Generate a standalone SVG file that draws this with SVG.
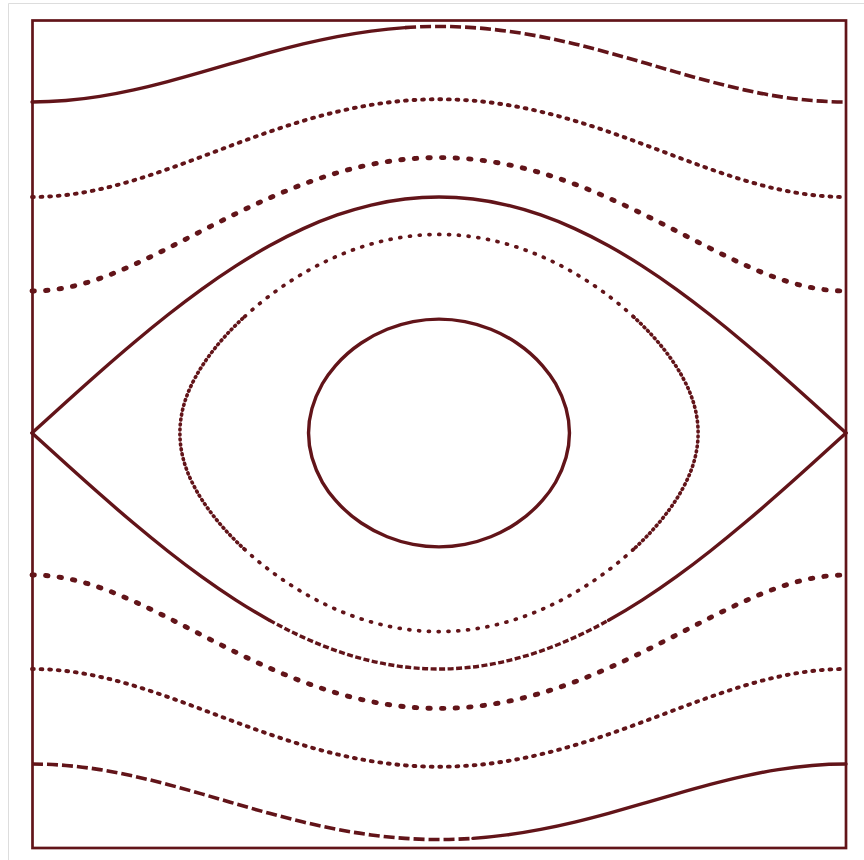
<svg xmlns="http://www.w3.org/2000/svg" width="864" height="860" viewBox="0 0 864 860">
<style>
.c{fill:none;stroke:#621419;stroke-linejoin:round;stroke-linecap:round}
.solid{stroke-width:3.4}
.dash{stroke-width:3.6;stroke-dasharray:11 4;stroke-linecap:butt}
.fine{stroke-width:3.9;stroke-dasharray:1.8 6.8}
.big{stroke-width:4.9;stroke-dasharray:2.4 11.2}
.orb{stroke-width:3.7;stroke-dasharray:1 8.8}
.orbt{stroke-width:3.6;stroke-dasharray:1 4}
.sepd{stroke-width:3.4;stroke-dasharray:6 2.5;stroke-linecap:butt}
</style>
<rect width="864" height="860" fill="#ffffff"/>
<polyline points="8.5,860 8.5,3.5 864,3.5" fill="none" stroke="#dddddd" stroke-width="1"/>
<rect id="frame" x="32.5" y="20.5" width="813.5" height="827.5" fill="none" stroke="#621419" stroke-width="2.7"/>
<g id="curves">
<g id="rotA-top">
<path class="c solid" d="M32,101.97 C43.31,101.97 54.61,101.49 65.92,100.54 S88.52,98.19 99.83,96.38 S122.44,92.37 133.75,89.87 S156.36,84.55 167.67,81.56 S190.27,75.38 201.58,72.13 S224.19,65.56 235.5,62.28 S258.11,55.78 269.42,52.69 S292.02,46.66 303.33,43.95 S325.94,38.78 337.25,36.61 S359.86,32.58 371.17,31.07 S393.77,28.40 405.08,27.62"/>
<path class="c dash" d="M405.08,27.62 C416.39,26.84 427.69,26.45 439,26.45 S461.61,26.84 472.92,27.62 S495.52,29.56 506.83,31.07 S529.44,34.44 540.75,36.61 S563.36,41.25 574.67,43.95 S597.27,49.60 608.58,52.69 S631.19,59.00 642.5,62.28 S665.11,68.88 676.42,72.13 S699.02,78.57 710.33,81.56 S732.94,87.37 744.25,89.87 S766.86,94.58 778.17,96.38 S800.77,99.59 812.08,100.54 S834.69,101.97 846,101.97"/>
</g>
<g id="rotA-bottom">
<path class="c dash" d="M32,764.03 C43.31,764.03 54.61,764.51 65.92,765.46 S88.52,767.81 99.83,769.62 S122.44,773.63 133.75,776.13 S156.36,781.45 167.67,784.44 S190.27,790.62 201.58,793.87 S224.19,800.44 235.5,803.72 S258.11,810.22 269.42,813.31 S292.02,819.34 303.33,822.05 S325.94,827.22 337.25,829.39 S359.86,833.42 371.17,834.93 S393.77,837.60 405.08,838.38 S427.69,839.55 439,839.55 S461.61,839.16 472.92,838.38"/>
<path class="c solid" d="M472.92,838.38 C484.23,837.60 495.52,836.44 506.83,834.93 S529.44,831.56 540.75,829.39 S563.36,824.75 574.67,822.05 S597.27,816.40 608.58,813.31 S631.19,807.00 642.5,803.72 S665.11,797.12 676.42,793.87 S699.02,787.43 710.33,784.44 S732.94,778.63 744.25,776.13 S766.86,771.42 778.17,769.62 S800.77,766.41 812.08,765.46 S834.69,764.03 846,764.03"/>
</g>
<g id="rotB-top">
<path class="c fine" d="M32,197 C43.31,197 54.61,196.32 65.92,195 S88.52,191.71 99.83,189.22 S122.44,183.71 133.75,180.31 S156.36,173.13 167.67,169.14 S190.27,160.96 201.58,156.71 S224.19,148.16 235.5,143.96 S258.11,135.65 269.42,131.75 S292.02,124.17 303.33,120.8 S325.94,114.37 337.25,111.7 S359.86,106.73 371.17,104.88 S393.77,101.62 405.08,100.67 S427.69,99.24 439,99.24 S461.61,99.72 472.92,100.67 S495.52,103.03 506.83,104.88 S529.44,109.03 540.75,111.7 S563.36,117.43 574.67,120.8 S597.27,127.85 608.58,131.75 S631.19,139.76 642.5,143.96 S665.11,152.46 676.42,156.71 S699.02,165.15 710.33,169.14 S732.94,176.91 744.25,180.31 S766.86,186.73 778.17,189.22 S800.77,193.68 812.08,195 S834.69,197 846,197"/>
</g>
<g id="rotB-bottom">
<path class="c fine" d="M32,669 C43.31,669 54.61,669.68 65.92,671 S88.52,674.29 99.83,676.78 S122.44,682.29 133.75,685.69 S156.36,692.87 167.67,696.86 S190.27,705.04 201.58,709.29 S224.19,717.84 235.5,722.04 S258.11,730.35 269.42,734.25 S292.02,741.83 303.33,745.2 S325.94,751.63 337.25,754.3 S359.86,759.27 371.17,761.12 S393.77,764.38 405.08,765.33 S427.69,766.76 439,766.76 S461.61,766.28 472.92,765.33 S495.52,762.97 506.83,761.12 S529.44,756.97 540.75,754.3 S563.36,748.57 574.67,745.2 S597.27,738.15 608.58,734.25 S631.19,726.24 642.5,722.04 S665.11,713.54 676.42,709.29 S699.02,700.85 710.33,696.86 S732.94,689.09 744.25,685.69 S766.86,679.27 778.17,676.78 S800.77,672.32 812.08,671 S834.69,669 846,669"/>
</g>
<g id="rotC-top">
<path class="c big" d="M32,291.01 C43.31,291.01 54.61,289.87 65.92,287.7 S88.52,282.36 99.83,278.43 S122.44,269.83 133.75,264.72 S156.36,254.07 167.67,248.37 S190.27,236.81 201.58,231 S224.19,219.44 235.5,213.89 S258.11,203.01 269.42,198.01 S292.02,188.37 303.33,184.14 S325.94,176.10 337.25,172.8 S359.86,166.69 371.17,164.43 S393.77,160.45 405.08,159.3 S427.69,157.58 439,157.58 S461.61,158.15 472.92,159.3 S495.52,162.17 506.83,164.43 S529.44,169.50 540.75,172.8 S563.36,179.91 574.67,184.14 S597.27,193.02 608.58,198.01 S631.19,208.34 642.5,213.89 S665.11,225.19 676.42,231 S699.02,242.67 710.33,248.37 S732.94,259.61 744.25,264.72 S766.86,274.50 778.17,278.43 S800.77,285.54 812.08,287.7 S834.69,291.01 846,291.01"/>
</g>
<g id="rotC-bottom">
<path class="c big" d="M32,574.99 C43.31,574.99 54.61,576.13 65.92,578.3 S88.52,583.64 99.83,587.57 S122.44,596.17 133.75,601.28 S156.36,611.93 167.67,617.63 S190.27,629.19 201.58,635 S224.19,646.56 235.5,652.11 S258.11,662.99 269.42,667.99 S292.02,677.63 303.33,681.86 S325.94,689.90 337.25,693.2 S359.86,699.31 371.17,701.57 S393.77,705.55 405.08,706.7 S427.69,708.42 439,708.42 S461.61,707.85 472.92,706.7 S495.52,703.83 506.83,701.57 S529.44,696.50 540.75,693.2 S563.36,686.09 574.67,681.86 S597.27,672.98 608.58,667.99 S631.19,657.66 642.5,652.11 S665.11,640.81 676.42,635 S699.02,623.33 710.33,617.63 S732.94,606.39 744.25,601.28 S766.86,591.50 778.17,587.57 S800.77,580.46 812.08,578.3 S834.69,574.99 846,574.99"/>
</g>
<g id="separatrix">
<path class="c solid" d="M32,433 C43.31,422.70 54.61,412.41 65.92,402.2 S88.52,381.87 99.83,371.92 S122.44,352.20 133.75,342.69 S156.36,323.92 167.67,315 S190.27,297.50 201.58,289.33 S224.19,273.40 235.5,266.12 S258.11,252.04 269.42,245.77 S292.02,233.77 303.33,228.62 S325.94,218.90 337.25,214.96 S359.86,207.71 371.17,205.04 S393.77,200.36 405.08,199.02 S427.69,197 439,197 S461.61,197.68 472.92,199.02 S495.52,202.38 506.83,205.04 S529.44,211.02 540.75,214.96 S563.36,223.47 574.67,228.62 S597.27,239.50 608.58,245.77 S631.19,258.84 642.5,266.12 S665.11,281.16 676.42,289.33 S699.02,306.08 710.33,315 S732.94,333.18 744.25,342.69 S766.86,361.97 778.17,371.92 S800.77,391.99 812.08,402.2 S834.69,422.70 846,433"/>
<path class="c solid" d="M32,433 C43.31,443.30 54.61,453.59 65.92,463.8 S88.52,484.13 99.83,494.08 S122.44,513.80 133.75,523.31 S156.36,542.08 167.67,551 S190.27,568.50 201.58,576.67 S224.19,592.60 235.5,599.88 S258.11,613.96 269.42,620.23"/>
<path class="c sepd" d="M269.42,620.23 C280.73,626.50 292.02,632.23 303.33,637.38 S325.94,647.10 337.25,651.04 S359.86,658.29 371.17,660.96 S393.77,665.64 405.08,666.98 S427.69,669 439,669 S461.61,668.32 472.92,666.98 S495.52,663.62 506.83,660.96 S529.44,654.98 540.75,651.04 S563.36,642.53 574.67,637.38 S597.27,626.50 608.58,620.23"/>
<path class="c solid" d="M608.58,620.23 C619.89,613.96 631.19,607.16 642.5,599.88 S665.11,584.84 676.42,576.67 S699.02,559.92 710.33,551 S732.94,532.82 744.25,523.31 S766.86,504.03 778.17,494.08 S800.77,474.01 812.08,463.8 S834.69,443.30 846,433"/>
</g>
<g id="orbit-outer">
<path class="c orb" d="M244.67,316.56 C255.47,306.62 266.26,298.0 277.06,290.28 C287.86,282.56 298.65,275.78 309.45,269.8 C320.25,263.82 331.04,258.63 341.84,254.21 C352.64,249.79 363.42,246.12 374.22,243.19 C385.02,240.26 395.81,238.06 406.61,236.6 C417.41,235.14 428.2,234.41 439,234.41 C449.8,234.41 460.59,235.14 471.39,236.6 C482.19,238.06 492.98,240.26 503.78,243.19 C514.58,246.12 525.36,249.79 536.16,254.21 C546.96,258.63 557.75,263.82 568.55,269.8 C579.35,275.78 590.14,282.56 600.94,290.28 C611.74,298.0 622.53,306.62 633.33,316.56"/>
<path class="c orbt" d="M633.33,316.56 C641.97,324.51 650.6,333.26 659.24,343.55 C663.56,348.7 667.87,354.23 672.19,360.46 C676.51,366.69 680.83,373.51 685.15,382.15 Q711.05,433 685.15,483.85 C680.83,492.49 676.51,499.31 672.19,505.54 C667.87,511.77 663.56,517.3 659.24,522.45 C650.6,532.74 641.97,541.49 633.33,549.44"/>
<path class="c orb" d="M633.33,549.44 C622.53,559.38 611.74,568.0 600.94,575.72 C590.14,583.44 579.35,590.22 568.55,596.2 C557.75,602.18 546.96,607.37 536.16,611.79 C525.36,616.21 514.58,619.88 503.78,622.81 C492.98,625.74 482.19,627.94 471.39,629.4 C460.59,630.86 449.8,631.59 439,631.59 C428.2,631.59 417.41,630.86 406.61,629.4 C395.81,627.94 385.02,625.74 374.22,622.81 C363.42,619.88 352.64,616.21 341.84,611.79 C331.04,607.37 320.25,602.18 309.45,596.2 C298.65,590.22 287.86,583.44 277.06,575.72 C266.26,568.0 255.47,559.38 244.67,549.44"/>
<path class="c orbt" d="M244.67,549.44 C236.03,541.49 227.4,532.74 218.76,522.45 C214.44,517.3 210.13,511.77 205.81,505.54 C201.49,499.31 197.17,492.49 192.85,483.85 Q166.95,433 192.85,382.15 C197.17,373.51 201.49,366.69 205.81,360.46 C210.13,354.23 214.44,348.7 218.76,343.55 C227.4,333.26 236.03,324.51 244.67,316.56"/>
</g>
<g id="orbit-inner">
<path class="c solid" d="M439,319.13 C447.64,319.13 456.27,319.95 464.91,321.6 C473.55,323.26 482.18,325.75 490.82,329.23 C499.46,332.71 508.09,337.17 516.73,342.99 C525.37,348.81 534.0,355.87 542.64,365.77 C546.96,370.72 551.28,376.34 555.6,383.72 Q583.32,433 555.6,482.28 C551.28,489.66 546.96,495.28 542.64,500.23 C534.0,510.13 525.37,517.19 516.73,523.01 C508.09,528.83 499.46,533.29 490.82,536.77 C482.18,540.25 473.55,542.74 464.91,544.4 C456.27,546.05 447.64,546.87 439,546.87 C430.36,546.87 421.73,546.05 413.09,544.4 C404.45,542.74 395.82,540.25 387.18,536.77 C378.54,533.29 369.91,528.83 361.27,523.01 C352.63,517.19 344.0,510.13 335.36,500.23 C331.04,495.28 326.72,489.66 322.4,482.28 Q294.68,433 322.4,383.72 C326.72,376.34 331.04,370.72 335.36,365.77 C344.0,355.87 352.63,348.81 361.27,342.99 C369.91,337.17 378.54,332.71 387.18,329.23 C395.82,325.75 404.45,323.26 413.09,321.6 C421.73,319.95 430.36,319.13 439,319.13 Z"/>
</g>
</g>
</svg>
